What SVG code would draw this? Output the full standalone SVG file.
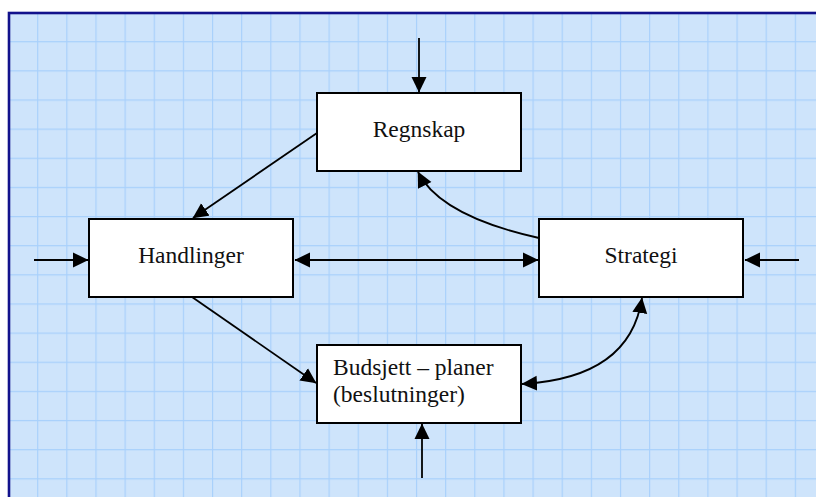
<svg xmlns="http://www.w3.org/2000/svg" width="816" height="497" viewBox="0 0 816 497">
  <defs>
    <pattern id="grid" patternUnits="userSpaceOnUse" x="8" y="12" width="29.14" height="29.14">
      <rect width="29.14" height="29.14" fill="#cee4fb"/>
      <path d="M0 0.5H29.14M0.5 0V29.14" stroke="#a8d0fb" stroke-width="1.3" fill="none"/>
    </pattern>
    <marker id="arr" markerUnits="userSpaceOnUse" markerWidth="16" markerHeight="16" viewBox="0 0 16 16" refX="15" refY="8" orient="auto-start-reverse">
      <path d="M0 0.5L15.5 8L0 15.5Z" fill="#000"/>
    </marker>
    <style>
      .box { fill: #fff; stroke: #000; stroke-width: 2; }
      .lbl { font-family: "Liberation Serif", "Times New Roman", serif; font-size: 23.5px; fill: #111; }
      .con { fill: none; stroke: #000; stroke-width: 1.8; }
    </style>
  </defs>
  <rect x="0" y="0" width="816" height="497" fill="#fff"/>
  <rect x="9" y="13" width="820" height="500" fill="url(#grid)" stroke="#12128c" stroke-width="2.6"/>

  <g id="connectors">
    <line class="con" x1="419" y1="38" x2="419" y2="92" marker-end="url(#arr)"/>
    <line class="con" x1="317" y1="133" x2="193" y2="218" marker-end="url(#arr)"/>
    <line class="con" x1="34" y1="260" x2="88" y2="260" marker-end="url(#arr)"/>
    <line class="con" x1="295" y1="260" x2="538" y2="260" marker-start="url(#arr)" marker-end="url(#arr)"/>
    <line class="con" x1="799" y1="260" x2="745" y2="260" marker-end="url(#arr)"/>
    <line class="con" x1="192" y1="297" x2="316" y2="383" marker-end="url(#arr)"/>
    <line class="con" x1="422" y1="478" x2="422" y2="424" marker-end="url(#arr)"/>
    <path class="con" d="M539 238Q440 216 418 172" marker-end="url(#arr)"/>
    <path class="con" d="M642 298Q630 378 522 384" marker-start="url(#arr)" marker-end="url(#arr)"/>
  </g>

  <g id="regnskap">
    <rect class="box" x="317" y="93" width="204" height="78"/>
    <text class="lbl" x="419" y="137" text-anchor="middle">Regnskap</text>
  </g>
  <g id="handlinger">
    <rect class="box" x="89" y="219" width="204" height="78"/>
    <text class="lbl" x="191" y="263" text-anchor="middle">Handlinger</text>
  </g>
  <g id="strategi">
    <rect class="box" x="539" y="219" width="204" height="78"/>
    <text class="lbl" x="641" y="263" text-anchor="middle">Strategi</text>
  </g>
  <g id="budsjett">
    <rect class="box" x="317" y="345" width="204" height="78"/>
    <text class="lbl" x="333" y="375">Budsjett – planer</text>
    <text class="lbl" x="333" y="402">(beslutninger)</text>
  </g>
</svg>
